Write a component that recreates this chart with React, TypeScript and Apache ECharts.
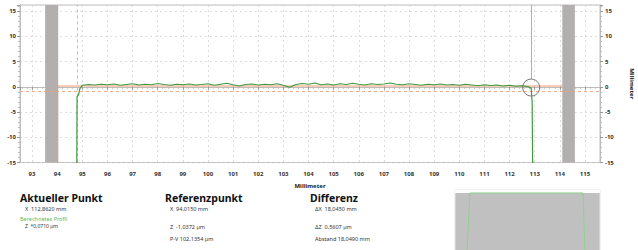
import React, { useEffect, useRef } from "react";
import * as echarts from "echarts";

const xRange = [92.52, 115.6];
const yRange = [-15, 16.2];
const yTickValues = [-15, -10, -5, 0, 5, 10, 15];

// Measured profile (green), [mm, µm]
const profile: [number, number][] = [
  [94.78, -15.5], [94.79, -2.0], [94.85, -1.6], [94.9, -0.4],
  [95.0, 0.3], [95.25, 0.45], [95.5, 0.35], [95.75, 0.5], [96.0, 0.4], [96.25, 0.55],
  [96.5, 0.3], [96.75, 0.45], [97.0, 0.6], [97.25, 0.35], [97.5, 0.5], [97.75, 0.4],
  [98.0, 0.65], [98.25, 0.45], [98.5, 0.3], [98.75, 0.5], [99.0, 0.4], [99.25, 0.55],
  [99.5, 0.35], [99.75, 0.45], [100.0, 0.6], [100.25, 0.3], [100.5, 0.5], [100.75, 0.7],
  [101.0, 0.4], [101.25, 0.15], [101.5, 0.45], [101.75, 0.55], [102.0, 0.35], [102.25, 0.5],
  [102.5, 0.4], [102.75, 0.6], [103.0, 0.3], [103.25, -0.1], [103.5, 0.45], [103.75, 0.65],
  [104.0, 0.5], [104.25, 0.75], [104.5, 0.4], [104.75, 0.55], [105.0, 0.35], [105.25, 0.6],
  [105.5, 0.45], [105.75, 0.7], [106.0, 0.5], [106.25, 0.35], [106.5, 0.6], [106.75, 0.45],
  [107.0, 0.55], [107.25, 0.75], [107.5, 0.5], [107.75, 0.4], [108.0, 0.6], [108.25, 0.45],
  [108.5, 0.3], [108.75, 0.5], [109.0, 0.4], [109.25, 0.55], [109.5, 0.35], [109.75, 0.45],
  [110.0, 0.3], [110.25, 0.5], [110.5, 0.35], [110.75, 0.2], [111.0, 0.4], [111.25, 0.25],
  [111.5, 0.35], [111.75, 0.15], [112.0, 0.3], [112.25, 0.1], [112.5, 0.2], [112.75, 0.0],
  [112.82, -0.2], [112.86, -0.2], [112.9, -3.0], [112.92, -15.5],
];

// Reference contour (orange)
const reference: [number, number][] = [
  [94.015, -15.5], [94.015, 0.15], [114.1, 0.15],
];
const toleranceLevel = -0.8;
const edgeMarkerX = 94.8;
const bands: [number, number][] = [
  [93.52, 94.04],
  [114.1, 114.6],
];
const currentPoint: [number, number] = [112.862, -0.15];

// Overview thumbnail profile
const thumbProfile: [number, number][] = [
  [94.43, -20], [94.9, 0], [112.9, 0], [113.2, -20],
];

const infoTexts = {
  aktuellTitle: "Aktueller Punkt",
  aktuellX: "X  112,8620 mm",
  profil: "Berechnetes Profil",
  aktuellZ: "Z  *0,0710 µm",
  refTitle: "Referenzpunkt",
  refX: "X  94,0150 mm",
  refZ: "Z  -1,0372 µm",
  refPV: "P-V 102,1354 µm",
  diffTitle: "Differenz",
  diffX: "ΔX  18,0450 mm",
  diffZ: "ΔZ  0,5607 µm",
  diffA: "Abstand 18,0490 mm",
};

const FONT = "'Noto Sans', 'Open Sans', sans-serif";

export default function App() {
  const ref = useRef<HTMLDivElement>(null);
  useEffect(() => {
    if (!ref.current) return;
    const chart = echarts.init(ref.current, undefined, { renderer: "svg" });
    const gridLine = { show: true, lineStyle: { color: "#d4d4d4", type: [2, 3] as any, width: 0.8 } };
    const yLabel = {
      fontSize: 6, fontWeight: "bold" as const, color: "#333", fontFamily: FONT,
      formatter: (v: number) => (yTickValues.includes(v) ? String(v) : ""),
    };
    const txt = (x: number, y: number, text: string, size: number, bold = false, color = "#333") => ({
      type: "text", x, y,
      style: { text, fontSize: size, fontWeight: bold ? "bold" : "normal", fill: color, fontFamily: FONT, verticalAlign: "middle" },
    });
    chart.setOption({
      animation: false,
      backgroundColor: "#fff",
      grid: [
        { left: 20, top: 5, width: 580, height: 157.5, show: true, borderColor: "#bdbdbd", borderWidth: 1, backgroundColor: "#fff", outerBoundsMode: "none" },
        { left: 455, top: 190, width: 145, height: 62, show: true, borderColor: "#e6e6e6", borderWidth: 1, backgroundColor: "#c0c0c0", outerBoundsMode: "none" },
      ],
      xAxis: [
        {
          gridIndex: 0, type: "value", min: xRange[0], max: xRange[1], splitNumber: 23, minInterval: 1, maxInterval: 1,
          name: "Millimeter", nameLocation: "middle", nameGap: 20,
          nameTextStyle: { fontSize: 6, fontWeight: "bold", color: "#222", fontFamily: FONT },
          axisLine: { lineStyle: { color: "#bdbdbd" } },
          axisTick: { show: true, length: 3, lineStyle: { color: "#999" } },
          minorTick: { show: true, splitNumber: 5, length: 2, lineStyle: { color: "#bbb" } },
          axisLabel: {
            fontSize: 6, fontWeight: "bold", color: "#333", margin: 8, fontFamily: FONT,
            formatter: (v: number) => (Number.isInteger(v) ? String(v) : ""),
          },
          splitLine: gridLine,
        },
        { gridIndex: 1, type: "value", min: xRange[0], max: xRange[1], show: false, splitLine: { show: false } },
      ],
      yAxis: [
        {
          gridIndex: 0, type: "value", min: yRange[0], max: yRange[1], interval: 5, position: "left",
          axisLine: { show: true, lineStyle: { color: "#bdbdbd" } },
          axisTick: { show: true, length: 3, lineStyle: { color: "#999" } },
          minorTick: { show: true, splitNumber: 5, length: 2, lineStyle: { color: "#bbb" } },
          axisLabel: { ...yLabel, margin: 4 },
          splitLine: gridLine,
        },
        {
          gridIndex: 0, type: "value", min: yRange[0], max: yRange[1], interval: 5, position: "right",
          name: "Millimeter", nameLocation: "middle", nameGap: 29, nameRotate: -90,
          nameTextStyle: { fontSize: 6, fontWeight: "bold", color: "#222", fontFamily: FONT },
          axisLine: { show: true, lineStyle: { color: "#bdbdbd" } },
          axisTick: { show: true, length: 3, lineStyle: { color: "#999" } },
          minorTick: { show: true, splitNumber: 5, length: 2, lineStyle: { color: "#bbb" } },
          axisLabel: { ...yLabel, margin: 5 },
          splitLine: { show: false },
        },
        { gridIndex: 1, type: "value", min: -20, max: 1, show: false, splitLine: { show: false } },
      ],
      series: [
        {
          type: "line", xAxisIndex: 0, yAxisIndex: 0, data: reference, showSymbol: false,
          lineStyle: { color: "#f2996f", width: 1.2 }, z: 3,
          markArea: {
            silent: true,
            itemStyle: { color: "#b3afaf" },
            data: bands.map((b) => [{ xAxis: b[0] }, { xAxis: b[1] }]),
          },
          markLine: {
            silent: true, symbol: "none", label: { show: false },
            lineStyle: { color: "#f5a07a", type: [3, 3] as any, width: 0.9 },
            data: [{ yAxis: toleranceLevel }, { xAxis: edgeMarkerX }],
          },
        },
        {
          type: "line", xAxisIndex: 0, yAxisIndex: 0, data: profile, showSymbol: false,
          lineStyle: { color: "#3f9a3f", width: 1.2 }, z: 5,
          markLine: {
            silent: true, symbol: "none", label: { show: false },
            lineStyle: { color: "#9a9a9a", type: "solid", width: 0.8 },
            data: [[{ coord: [currentPoint[0], yRange[1]] }, { coord: [currentPoint[0], 1.6] }]],
          },
          markPoint: {
            silent: true, symbol: "circle", symbolSize: 17,
            itemStyle: { color: "rgba(0,0,0,0)", borderColor: "#555", borderWidth: 0.8 },
            label: { show: false },
            data: [{ coord: currentPoint }],
          },
        },
        {
          type: "line", xAxisIndex: 1, yAxisIndex: 2, data: thumbProfile, showSymbol: false,
          lineStyle: { color: "#8fd08f", width: 1 }, z: 5,
          markArea: {
            silent: true, itemStyle: { color: "#ffffff" },
            data: [[{ yAxis: 0 }, { yAxis: 1 }]],
          },
        },
      ],
      graphic: [
        txt(20, 198, infoTexts.aktuellTitle, 10.5, true, "#111"),
        txt(25, 209, infoTexts.aktuellX, 5.5),
        txt(20, 219, infoTexts.profil, 5.5, false, "#5cb85c"),
        txt(25, 226, infoTexts.aktuellZ, 5),
        txt(165, 198, infoTexts.refTitle, 10.5, true, "#111"),
        txt(170, 209, infoTexts.refX, 5.5),
        txt(170, 227, infoTexts.refZ, 5.5),
        txt(170, 239, infoTexts.refPV, 5.5),
        txt(310, 198, infoTexts.diffTitle, 10.5, true, "#111"),
        txt(315, 209, infoTexts.diffX, 5.5),
        txt(315, 227, infoTexts.diffZ, 5.5),
        txt(315, 239, infoTexts.diffA, 5.5),
      ],
    });
    return () => chart.dispose();
  }, []);
  return <div ref={ref} style={{ position: "fixed", left: 0, top: 0, width: 638, height: 250 }} />;
}
